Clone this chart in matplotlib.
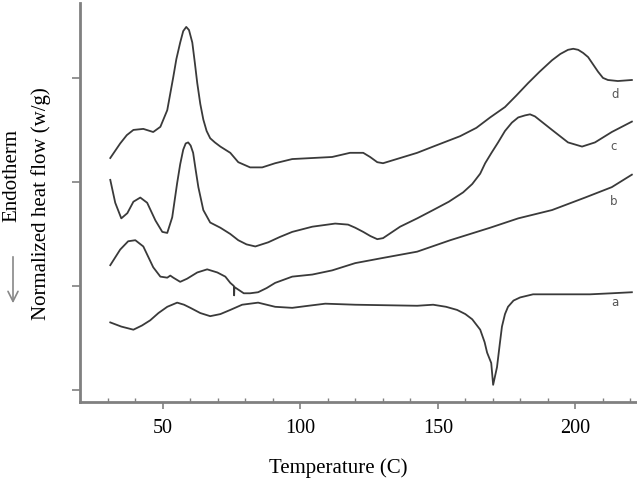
import matplotlib
matplotlib.use("Agg")
import matplotlib.pyplot as plt

# DSC traces (temperature in C, heat flow in arbitrary offset units)
temp_a = [31.0, 35.0, 39.4, 42.5, 45.5, 48.5, 51.7, 55.3, 57.8, 60.1, 63.7, 67.3, 71.0,
          74.6, 78.9, 84.7, 87.8, 90.9, 97.1, 103.0, 109.1, 120.0, 142.5, 148.3, 153.0,
          157.0, 160.0, 162.5, 165.4, 167.0, 167.9, 169.4, 170.1, 171.5, 172.5, 173.3,
          174.4, 175.5, 177.5, 179.9, 184.6, 195.5, 205.3, 213.2, 220.5]
flow_a = [0.65, 0.61, 0.58, 0.62, 0.67, 0.74, 0.80, 0.84, 0.82, 0.79, 0.74, 0.71, 0.73,
          0.77, 0.82, 0.84, 0.82, 0.80, 0.79, 0.81, 0.83, 0.82, 0.81, 0.82, 0.80,
          0.77, 0.73, 0.68, 0.58, 0.46, 0.36, 0.26, 0.05, 0.22, 0.44, 0.61,
          0.73, 0.80, 0.86, 0.89, 0.92, 0.92, 0.92, 0.93, 0.94]

temp_b = [31.0, 34.6, 37.5, 40.1, 43.0, 44.8, 46.6, 49.2, 51.7, 52.8, 53.9, 56.4, 58.9,
          62.6, 66.2, 69.9, 72.8, 74.6, 75.9, 76.0, 76.1, 79.5, 81.8, 84.7, 87.8, 90.9,
          97.1, 104.4, 111.6, 120.0, 130.1, 142.5, 154.5, 169.0, 179.2, 191.5, 203.5,
          213.2, 220.5]
flow_b = [1.20, 1.35, 1.43, 1.44, 1.38, 1.28, 1.18, 1.09, 1.08, 1.10, 1.08, 1.04, 1.07,
          1.13, 1.16, 1.13, 1.09, 1.03, 1.00, 0.91, 0.99, 0.93, 0.93, 0.94, 0.98, 1.03,
          1.09, 1.11, 1.15, 1.22, 1.27, 1.33, 1.44, 1.56, 1.65, 1.73, 1.85,
          1.95, 2.07]

temp_c = [31.0, 32.8, 35.0, 37.2, 39.4, 41.9, 44.4, 47.4, 49.9, 51.7, 53.5, 55.3, 56.4,
          57.5, 58.4, 59.3, 60.2, 61.1, 62.0, 63.0, 64.8, 67.3, 71.0, 74.6, 77.5, 80.5,
          83.7, 88.4, 92.5, 97.1, 104.4, 112.7, 117.4, 120.0, 122.9, 125.5, 128.0, 130.1,
          136.3, 142.5, 148.3, 154.0, 159.2, 162.5, 165.4, 167.2, 169.5, 171.9, 174.4,
          176.9, 179.2, 181.7, 183.5, 185.3, 191.5, 197.3, 202.4, 207.1, 213.2, 220.5]
flow_c = [2.02, 1.80, 1.65, 1.70, 1.81, 1.85, 1.80, 1.63, 1.52, 1.51, 1.66, 1.99, 2.17,
          2.31, 2.37, 2.38, 2.35, 2.28, 2.12, 1.95, 1.73, 1.61, 1.56, 1.50, 1.44, 1.40,
          1.38, 1.42, 1.47, 1.52, 1.57, 1.60, 1.59, 1.56, 1.52, 1.48, 1.45, 1.46,
          1.57, 1.65, 1.73, 1.81, 1.90, 1.98, 2.08, 2.18, 2.28, 2.38, 2.49,
          2.57, 2.62, 2.64, 2.65, 2.63, 2.50, 2.38, 2.34, 2.38, 2.48, 2.58]

temp_d = [31.0, 34.6, 37.0, 39.4, 43.0, 46.6, 49.2, 51.7, 53.9, 55.0, 56.4, 57.5, 58.6,
          59.6, 60.8, 61.7, 62.6, 63.7, 64.8, 66.0, 67.3, 69.0, 71.0, 74.6, 77.5, 81.8,
          86.2, 90.9, 97.1, 104.4, 111.6, 118.1, 122.9, 125.4, 128.0, 130.1, 136.3, 142.5,
          148.3, 158.1, 164.0, 169.0, 174.4, 178.5, 182.8, 187.0, 191.5, 194.5, 197.3,
          199.2, 201.0, 202.8, 204.6, 206.4, 208.2, 210.0, 211.8, 215.4, 220.5]
flow_d = [2.23, 2.37, 2.45, 2.50, 2.51, 2.48, 2.53, 2.69, 3.01, 3.18, 3.34, 3.45, 3.49,
          3.46, 3.34, 3.15, 2.95, 2.75, 2.60, 2.49, 2.42, 2.38, 2.34, 2.28, 2.19, 2.14,
          2.14, 2.18, 2.22, 2.23, 2.24, 2.28, 2.28, 2.24, 2.19, 2.18, 2.23, 2.28,
          2.34, 2.44, 2.52, 2.62, 2.72, 2.83, 2.95, 3.06, 3.17, 3.23, 3.27,
          3.28, 3.27, 3.24, 3.20, 3.13, 3.06, 3.00, 2.98, 2.97, 2.98]

curve_names = ["a", "b", "c", "d"]
x_major = [50, 100, 150, 200]
y_major = [0, 1, 2, 3]

serif = "Liberation Serif"
line_col = "#3a3a3a"
axis_col = "#808080"

fig = plt.figure(figsize=(6.37, 4.91), dpi=100)
ax = fig.add_axes([80 / 637, 89 / 491, 556 / 637, 399 / 491])

for t, f in [(temp_a, flow_a), (temp_b, flow_b), (temp_c, flow_c), (temp_d, flow_d)]:
    ax.plot(t, f, color=line_col, lw=1.3, solid_joinstyle="round")

# little letters at the right end of each trace
label_pos = [(214.4, 0.84), (213.7, 1.81), (213.7, 2.34), (214.4, 2.84)]
for name, (tx, ty) in zip(curve_names, label_pos):
    ax.text(tx, ty, name, fontsize=8.5, color="#555555", ha="center", va="center")

ax.set_xlim(20, 222)
ax.set_ylim(-0.115, 3.72)

for side in ["top", "right"]:
    ax.spines[side].set_visible(False)
for side in ["left", "bottom"]:
    ax.spines[side].set_color(axis_col)
    ax.spines[side].set_linewidth(2)

ax.set_xticks(x_major)
ax.set_xticks(range(30, 221, 10), minor=True)
ax.set_yticks(y_major)
ax.set_yticklabels([])
ax.tick_params(axis="x", which="major", direction="out", length=5, width=1.2,
               color=axis_col, pad=7, labelsize=14.5)
ax.tick_params(axis="x", which="minor", direction="in", length=3, width=1,
               color=axis_col)
ax.tick_params(axis="y", which="major", direction="out", length=6, width=1.2,
               color=axis_col)
for lab in ax.get_xticklabels():
    lab.set_fontfamily(serif)

fig.text(338 / 637, 1 - 468 / 491, "Temperature (C)", family=serif, fontsize=15,
         ha="center", va="center")
fig.text(41 / 637, 1 - 204 / 491, "Normalized heat flow (w/g)", family=serif,
         fontsize=15, rotation=90, ha="center", va="center")
fig.text(12 / 637, 1 - 175 / 491, "Endotherm", family=serif, fontsize=15,
         rotation=90, ha="center", va="center")
ax.annotate("", xy=(13 / 637, 1 - 306 / 491), xytext=(13 / 637, 1 - 254 / 491),
            xycoords="figure fraction", textcoords="figure fraction",
            arrowprops=dict(arrowstyle="->", color="#888888", lw=1.2,
                            mutation_scale=18))

fig.savefig("out.png", dpi=100)
